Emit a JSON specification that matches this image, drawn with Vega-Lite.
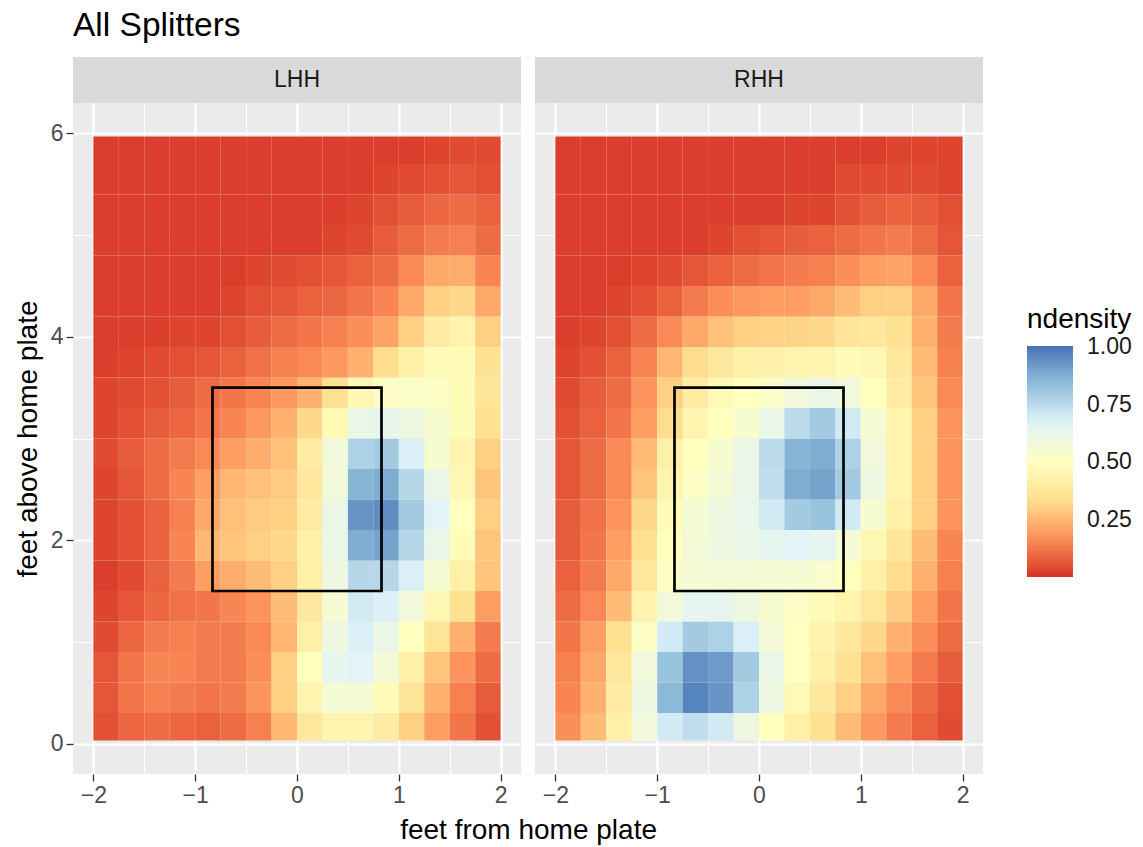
{
  "$schema": "https://vega.github.io/schema/vega-lite/v6.json",
  "padding": {"left": 14, "top": 8, "right": 8, "bottom": 4},
  "background": "white",
  "title": {"text": "All Splitters", "anchor": "start", "fontSize": 33.5, "fontWeight": "normal", "color": "black", "offset": 14, "frame": "group"},
  "config": {
    "font": "Liberation Sans",
    "axis": {"domain": false, "gridColor": "white", "gridOpacity": 1, "tickColor": "#333333", "tickSize": 7, "tickWidth": 1.3, "labelFontSize": 23, "labelColor": "#4d4d4d", "labelPadding": 3, "titleFontSize": 28, "titleFontWeight": "normal", "titleColor": "black", "labelFlush": false, "labelOverlap": false}
  },
  "datasets": {
    "lhh": [
{"x":-2,"x2":-1.75,"y":0.03,"y2":0.3,"d":0.05},{"x":-1.75,"x2":-1.5,"y":0.03,"y2":0.3,"d":0.09},{"x":-1.5,"x2":-1.25,"y":0.03,"y2":0.3,"d":0.1},{"x":-1.25,"x2":-1,"y":0.03,"y2":0.3,"d":0.09},{"x":-1,"x2":-0.75,"y":0.03,"y2":0.3,"d":0.08},{"x":-0.75,"x2":-0.5,"y":0.03,"y2":0.3,"d":0.1},{"x":-0.5,"x2":-0.25,"y":0.03,"y2":0.3,"d":0.14},{"x":-0.25,"x2":0,"y":0.03,"y2":0.3,"d":0.25},{"x":0,"x2":0.25,"y":0.03,"y2":0.3,"d":0.38},{"x":0.25,"x2":0.5,"y":0.03,"y2":0.3,"d":0.45},{"x":0.5,"x2":0.75,"y":0.03,"y2":0.3,"d":0.45},{"x":0.75,"x2":1,"y":0.03,"y2":0.3,"d":0.4},{"x":1,"x2":1.25,"y":0.03,"y2":0.3,"d":0.3},{"x":1.25,"x2":1.5,"y":0.03,"y2":0.3,"d":0.2},{"x":1.5,"x2":1.75,"y":0.03,"y2":0.3,"d":0.12},{"x":1.75,"x2":2,"y":0.03,"y2":0.3,"d":0.05},
{"x":-2,"x2":-1.75,"y":0.3,"y2":0.6,"d":0.06},{"x":-1.75,"x2":-1.5,"y":0.3,"y2":0.6,"d":0.12},{"x":-1.5,"x2":-1.25,"y":0.3,"y2":0.6,"d":0.14},{"x":-1.25,"x2":-1,"y":0.3,"y2":0.6,"d":0.13},{"x":-1,"x2":-0.75,"y":0.3,"y2":0.6,"d":0.12},{"x":-0.75,"x2":-0.5,"y":0.3,"y2":0.6,"d":0.13},{"x":-0.5,"x2":-0.25,"y":0.3,"y2":0.6,"d":0.18},{"x":-0.25,"x2":0,"y":0.3,"y2":0.6,"d":0.3},{"x":0,"x2":0.25,"y":0.3,"y2":0.6,"d":0.45},{"x":0.25,"x2":0.5,"y":0.3,"y2":0.6,"d":0.56},{"x":0.5,"x2":0.75,"y":0.3,"y2":0.6,"d":0.56},{"x":0.75,"x2":1,"y":0.3,"y2":0.6,"d":0.48},{"x":1,"x2":1.25,"y":0.3,"y2":0.6,"d":0.36},{"x":1.25,"x2":1.5,"y":0.3,"y2":0.6,"d":0.24},{"x":1.5,"x2":1.75,"y":0.3,"y2":0.6,"d":0.14},{"x":1.75,"x2":2,"y":0.3,"y2":0.6,"d":0.07},
{"x":-2,"x2":-1.75,"y":0.6,"y2":0.9,"d":0.06},{"x":-1.75,"x2":-1.5,"y":0.6,"y2":0.9,"d":0.12},{"x":-1.5,"x2":-1.25,"y":0.6,"y2":0.9,"d":0.15},{"x":-1.25,"x2":-1,"y":0.6,"y2":0.9,"d":0.15},{"x":-1,"x2":-0.75,"y":0.6,"y2":0.9,"d":0.13},{"x":-0.75,"x2":-0.5,"y":0.6,"y2":0.9,"d":0.13},{"x":-0.5,"x2":-0.25,"y":0.6,"y2":0.9,"d":0.17},{"x":-0.25,"x2":0,"y":0.6,"y2":0.9,"d":0.3},{"x":0,"x2":0.25,"y":0.6,"y2":0.9,"d":0.5},{"x":0.25,"x2":0.5,"y":0.6,"y2":0.9,"d":0.64},{"x":0.5,"x2":0.75,"y":0.6,"y2":0.9,"d":0.66},{"x":0.75,"x2":1,"y":0.6,"y2":0.9,"d":0.57},{"x":1,"x2":1.25,"y":0.6,"y2":0.9,"d":0.42},{"x":1.25,"x2":1.5,"y":0.6,"y2":0.9,"d":0.28},{"x":1.5,"x2":1.75,"y":0.6,"y2":0.9,"d":0.18},{"x":1.75,"x2":2,"y":0.6,"y2":0.9,"d":0.1},
{"x":-2,"x2":-1.75,"y":0.9,"y2":1.2,"d":0.04},{"x":-1.75,"x2":-1.5,"y":0.9,"y2":1.2,"d":0.09},{"x":-1.5,"x2":-1.25,"y":0.9,"y2":1.2,"d":0.13},{"x":-1.25,"x2":-1,"y":0.9,"y2":1.2,"d":0.14},{"x":-1,"x2":-0.75,"y":0.9,"y2":1.2,"d":0.13},{"x":-0.75,"x2":-0.5,"y":0.9,"y2":1.2,"d":0.13},{"x":-0.5,"x2":-0.25,"y":0.9,"y2":1.2,"d":0.16},{"x":-0.25,"x2":0,"y":0.9,"y2":1.2,"d":0.25},{"x":0,"x2":0.25,"y":0.9,"y2":1.2,"d":0.42},{"x":0.25,"x2":0.5,"y":0.9,"y2":1.2,"d":0.6},{"x":0.5,"x2":0.75,"y":0.9,"y2":1.2,"d":0.68},{"x":0.75,"x2":1,"y":0.9,"y2":1.2,"d":0.62},{"x":1,"x2":1.25,"y":0.9,"y2":1.2,"d":0.5},{"x":1.25,"x2":1.5,"y":0.9,"y2":1.2,"d":0.36},{"x":1.5,"x2":1.75,"y":0.9,"y2":1.2,"d":0.24},{"x":1.75,"x2":2,"y":0.9,"y2":1.2,"d":0.13},
{"x":-2,"x2":-1.75,"y":1.2,"y2":1.5,"d":0.03},{"x":-1.75,"x2":-1.5,"y":1.2,"y2":1.5,"d":0.06},{"x":-1.5,"x2":-1.25,"y":1.2,"y2":1.5,"d":0.09},{"x":-1.25,"x2":-1,"y":1.2,"y2":1.5,"d":0.11},{"x":-1,"x2":-0.75,"y":1.2,"y2":1.5,"d":0.12},{"x":-0.75,"x2":-0.5,"y":1.2,"y2":1.5,"d":0.15},{"x":-0.5,"x2":-0.25,"y":1.2,"y2":1.5,"d":0.18},{"x":-0.25,"x2":0,"y":1.2,"y2":1.5,"d":0.26},{"x":0,"x2":0.25,"y":1.2,"y2":1.5,"d":0.38},{"x":0.25,"x2":0.5,"y":1.2,"y2":1.5,"d":0.56},{"x":0.5,"x2":0.75,"y":1.2,"y2":1.5,"d":0.7},{"x":0.75,"x2":1,"y":1.2,"y2":1.5,"d":0.68},{"x":1,"x2":1.25,"y":1.2,"y2":1.5,"d":0.58},{"x":1.25,"x2":1.5,"y":1.2,"y2":1.5,"d":0.46},{"x":1.5,"x2":1.75,"y":1.2,"y2":1.5,"d":0.34},{"x":1.75,"x2":2,"y":1.2,"y2":1.5,"d":0.2},
{"x":-2,"x2":-1.75,"y":1.5,"y2":1.8,"d":0.02},{"x":-1.75,"x2":-1.5,"y":1.5,"y2":1.8,"d":0.04},{"x":-1.5,"x2":-1.25,"y":1.5,"y2":1.8,"d":0.08},{"x":-1.25,"x2":-1,"y":1.5,"y2":1.8,"d":0.13},{"x":-1,"x2":-0.75,"y":1.5,"y2":1.8,"d":0.2},{"x":-0.75,"x2":-0.5,"y":1.5,"y2":1.8,"d":0.23},{"x":-0.5,"x2":-0.25,"y":1.5,"y2":1.8,"d":0.26},{"x":-0.25,"x2":0,"y":1.5,"y2":1.8,"d":0.3},{"x":0,"x2":0.25,"y":1.5,"y2":1.8,"d":0.42},{"x":0.25,"x2":0.5,"y":1.5,"y2":1.8,"d":0.6},{"x":0.5,"x2":0.75,"y":1.5,"y2":1.8,"d":0.76},{"x":0.75,"x2":1,"y":1.5,"y2":1.8,"d":0.76},{"x":1,"x2":1.25,"y":1.5,"y2":1.8,"d":0.68},{"x":1.25,"x2":1.5,"y":1.5,"y2":1.8,"d":0.56},{"x":1.5,"x2":1.75,"y":1.5,"y2":1.8,"d":0.42},{"x":1.75,"x2":2,"y":1.5,"y2":1.8,"d":0.28},
{"x":-2,"x2":-1.75,"y":1.8,"y2":2.1,"d":0.03},{"x":-1.75,"x2":-1.5,"y":1.8,"y2":2.1,"d":0.05},{"x":-1.5,"x2":-1.25,"y":1.8,"y2":2.1,"d":0.08},{"x":-1.25,"x2":-1,"y":1.8,"y2":2.1,"d":0.15},{"x":-1,"x2":-0.75,"y":1.8,"y2":2.1,"d":0.25},{"x":-0.75,"x2":-0.5,"y":1.8,"y2":2.1,"d":0.28},{"x":-0.5,"x2":-0.25,"y":1.8,"y2":2.1,"d":0.3},{"x":-0.25,"x2":0,"y":1.8,"y2":2.1,"d":0.32},{"x":0,"x2":0.25,"y":1.8,"y2":2.1,"d":0.42},{"x":0.25,"x2":0.5,"y":1.8,"y2":2.1,"d":0.62},{"x":0.5,"x2":0.75,"y":1.8,"y2":2.1,"d":0.88},{"x":0.75,"x2":1,"y":1.8,"y2":2.1,"d":0.9},{"x":1,"x2":1.25,"y":1.8,"y2":2.1,"d":0.76},{"x":1.25,"x2":1.5,"y":1.8,"y2":2.1,"d":0.62},{"x":1.5,"x2":1.75,"y":1.8,"y2":2.1,"d":0.48},{"x":1.75,"x2":2,"y":1.8,"y2":2.1,"d":0.28},
{"x":-2,"x2":-1.75,"y":2.1,"y2":2.4,"d":0.03},{"x":-1.75,"x2":-1.5,"y":2.1,"y2":2.4,"d":0.05},{"x":-1.5,"x2":-1.25,"y":2.1,"y2":2.4,"d":0.08},{"x":-1.25,"x2":-1,"y":2.1,"y2":2.4,"d":0.14},{"x":-1,"x2":-0.75,"y":2.1,"y2":2.4,"d":0.22},{"x":-0.75,"x2":-0.5,"y":2.1,"y2":2.4,"d":0.27},{"x":-0.5,"x2":-0.25,"y":2.1,"y2":2.4,"d":0.29},{"x":-0.25,"x2":0,"y":2.1,"y2":2.4,"d":0.3},{"x":0,"x2":0.25,"y":2.1,"y2":2.4,"d":0.4},{"x":0.25,"x2":0.5,"y":2.1,"y2":2.4,"d":0.62},{"x":0.5,"x2":0.75,"y":2.1,"y2":2.4,"d":0.93},{"x":0.75,"x2":1,"y":2.1,"y2":2.4,"d":0.95},{"x":1,"x2":1.25,"y":2.1,"y2":2.4,"d":0.8},{"x":1.25,"x2":1.5,"y":2.1,"y2":2.4,"d":0.66},{"x":1.5,"x2":1.75,"y":2.1,"y2":2.4,"d":0.5},{"x":1.75,"x2":2,"y":2.1,"y2":2.4,"d":0.3},
{"x":-2,"x2":-1.75,"y":2.4,"y2":2.7,"d":0.03},{"x":-1.75,"x2":-1.5,"y":2.4,"y2":2.7,"d":0.06},{"x":-1.5,"x2":-1.25,"y":2.4,"y2":2.7,"d":0.1},{"x":-1.25,"x2":-1,"y":2.4,"y2":2.7,"d":0.15},{"x":-1,"x2":-0.75,"y":2.4,"y2":2.7,"d":0.2},{"x":-0.75,"x2":-0.5,"y":2.4,"y2":2.7,"d":0.25},{"x":-0.5,"x2":-0.25,"y":2.4,"y2":2.7,"d":0.27},{"x":-0.25,"x2":0,"y":2.4,"y2":2.7,"d":0.29},{"x":0,"x2":0.25,"y":2.4,"y2":2.7,"d":0.38},{"x":0.25,"x2":0.5,"y":2.4,"y2":2.7,"d":0.58},{"x":0.5,"x2":0.75,"y":2.4,"y2":2.7,"d":0.86},{"x":0.75,"x2":1,"y":2.4,"y2":2.7,"d":0.88},{"x":1,"x2":1.25,"y":2.4,"y2":2.7,"d":0.76},{"x":1.25,"x2":1.5,"y":2.4,"y2":2.7,"d":0.62},{"x":1.5,"x2":1.75,"y":2.4,"y2":2.7,"d":0.46},{"x":1.75,"x2":2,"y":2.4,"y2":2.7,"d":0.28},
{"x":-2,"x2":-1.75,"y":2.7,"y2":3,"d":0.04},{"x":-1.75,"x2":-1.5,"y":2.7,"y2":3,"d":0.07},{"x":-1.5,"x2":-1.25,"y":2.7,"y2":3,"d":0.1},{"x":-1.25,"x2":-1,"y":2.7,"y2":3,"d":0.13},{"x":-1,"x2":-0.75,"y":2.7,"y2":3,"d":0.16},{"x":-0.75,"x2":-0.5,"y":2.7,"y2":3,"d":0.2},{"x":-0.5,"x2":-0.25,"y":2.7,"y2":3,"d":0.23},{"x":-0.25,"x2":0,"y":2.7,"y2":3,"d":0.27},{"x":0,"x2":0.25,"y":2.7,"y2":3,"d":0.4},{"x":0.25,"x2":0.5,"y":2.7,"y2":3,"d":0.58},{"x":0.5,"x2":0.75,"y":2.7,"y2":3,"d":0.78},{"x":0.75,"x2":1,"y":2.7,"y2":3,"d":0.8},{"x":1,"x2":1.25,"y":2.7,"y2":3,"d":0.68},{"x":1.25,"x2":1.5,"y":2.7,"y2":3,"d":0.55},{"x":1.5,"x2":1.75,"y":2.7,"y2":3,"d":0.45},{"x":1.75,"x2":2,"y":2.7,"y2":3,"d":0.3},
{"x":-2,"x2":-1.75,"y":3,"y2":3.3,"d":0.03},{"x":-1.75,"x2":-1.5,"y":3,"y2":3.3,"d":0.05},{"x":-1.5,"x2":-1.25,"y":3,"y2":3.3,"d":0.07},{"x":-1.25,"x2":-1,"y":3,"y2":3.3,"d":0.09},{"x":-1,"x2":-0.75,"y":3,"y2":3.3,"d":0.12},{"x":-0.75,"x2":-0.5,"y":3,"y2":3.3,"d":0.15},{"x":-0.5,"x2":-0.25,"y":3,"y2":3.3,"d":0.19},{"x":-0.25,"x2":0,"y":3,"y2":3.3,"d":0.24},{"x":0,"x2":0.25,"y":3,"y2":3.3,"d":0.32},{"x":0.25,"x2":0.5,"y":3,"y2":3.3,"d":0.47},{"x":0.5,"x2":0.75,"y":3,"y2":3.3,"d":0.62},{"x":0.75,"x2":1,"y":3,"y2":3.3,"d":0.64},{"x":1,"x2":1.25,"y":3,"y2":3.3,"d":0.6},{"x":1.25,"x2":1.5,"y":3,"y2":3.3,"d":0.55},{"x":1.5,"x2":1.75,"y":3,"y2":3.3,"d":0.48},{"x":1.75,"x2":2,"y":3,"y2":3.3,"d":0.34},
{"x":-2,"x2":-1.75,"y":3.3,"y2":3.6,"d":0.03},{"x":-1.75,"x2":-1.5,"y":3.3,"y2":3.6,"d":0.04},{"x":-1.5,"x2":-1.25,"y":3.3,"y2":3.6,"d":0.05},{"x":-1.25,"x2":-1,"y":3.3,"y2":3.6,"d":0.07},{"x":-1,"x2":-0.75,"y":3.3,"y2":3.6,"d":0.1},{"x":-0.75,"x2":-0.5,"y":3.3,"y2":3.6,"d":0.12},{"x":-0.5,"x2":-0.25,"y":3.3,"y2":3.6,"d":0.15},{"x":-0.25,"x2":0,"y":3.3,"y2":3.6,"d":0.19},{"x":0,"x2":0.25,"y":3.3,"y2":3.6,"d":0.24},{"x":0.25,"x2":0.5,"y":3.3,"y2":3.6,"d":0.34},{"x":0.5,"x2":0.75,"y":3.3,"y2":3.6,"d":0.46},{"x":0.75,"x2":1,"y":3.3,"y2":3.6,"d":0.52},{"x":1,"x2":1.25,"y":3.3,"y2":3.6,"d":0.53},{"x":1.25,"x2":1.5,"y":3.3,"y2":3.6,"d":0.52},{"x":1.5,"x2":1.75,"y":3.3,"y2":3.6,"d":0.48},{"x":1.75,"x2":2,"y":3.3,"y2":3.6,"d":0.36},
{"x":-2,"x2":-1.75,"y":3.6,"y2":3.9,"d":0.02},{"x":-1.75,"x2":-1.5,"y":3.6,"y2":3.9,"d":0.03},{"x":-1.5,"x2":-1.25,"y":3.6,"y2":3.9,"d":0.04},{"x":-1.25,"x2":-1,"y":3.6,"y2":3.9,"d":0.05},{"x":-1,"x2":-0.75,"y":3.6,"y2":3.9,"d":0.06},{"x":-0.75,"x2":-0.5,"y":3.6,"y2":3.9,"d":0.08},{"x":-0.5,"x2":-0.25,"y":3.6,"y2":3.9,"d":0.11},{"x":-0.25,"x2":0,"y":3.6,"y2":3.9,"d":0.14},{"x":0,"x2":0.25,"y":3.6,"y2":3.9,"d":0.16},{"x":0.25,"x2":0.5,"y":3.6,"y2":3.9,"d":0.19},{"x":0.5,"x2":0.75,"y":3.6,"y2":3.9,"d":0.24},{"x":0.75,"x2":1,"y":3.6,"y2":3.9,"d":0.33},{"x":1,"x2":1.25,"y":3.6,"y2":3.9,"d":0.42},{"x":1.25,"x2":1.5,"y":3.6,"y2":3.9,"d":0.48},{"x":1.5,"x2":1.75,"y":3.6,"y2":3.9,"d":0.48},{"x":1.75,"x2":2,"y":3.6,"y2":3.9,"d":0.35},
{"x":-2,"x2":-1.75,"y":3.9,"y2":4.2,"d":0.02},{"x":-1.75,"x2":-1.5,"y":3.9,"y2":4.2,"d":0.02},{"x":-1.5,"x2":-1.25,"y":3.9,"y2":4.2,"d":0.02},{"x":-1.25,"x2":-1,"y":3.9,"y2":4.2,"d":0.03},{"x":-1,"x2":-0.75,"y":3.9,"y2":4.2,"d":0.03},{"x":-0.75,"x2":-0.5,"y":3.9,"y2":4.2,"d":0.05},{"x":-0.5,"x2":-0.25,"y":3.9,"y2":4.2,"d":0.07},{"x":-0.25,"x2":0,"y":3.9,"y2":4.2,"d":0.1},{"x":0,"x2":0.25,"y":3.9,"y2":4.2,"d":0.12},{"x":0.25,"x2":0.5,"y":3.9,"y2":4.2,"d":0.14},{"x":0.5,"x2":0.75,"y":3.9,"y2":4.2,"d":0.17},{"x":0.75,"x2":1,"y":3.9,"y2":4.2,"d":0.21},{"x":1,"x2":1.25,"y":3.9,"y2":4.2,"d":0.3},{"x":1.25,"x2":1.5,"y":3.9,"y2":4.2,"d":0.4},{"x":1.5,"x2":1.75,"y":3.9,"y2":4.2,"d":0.44},{"x":1.75,"x2":2,"y":3.9,"y2":4.2,"d":0.3},
{"x":-2,"x2":-1.75,"y":4.2,"y2":4.5,"d":0.02},{"x":-1.75,"x2":-1.5,"y":4.2,"y2":4.5,"d":0.02},{"x":-1.5,"x2":-1.25,"y":4.2,"y2":4.5,"d":0.02},{"x":-1.25,"x2":-1,"y":4.2,"y2":4.5,"d":0.02},{"x":-1,"x2":-0.75,"y":4.2,"y2":4.5,"d":0.02},{"x":-0.75,"x2":-0.5,"y":4.2,"y2":4.5,"d":0.03},{"x":-0.5,"x2":-0.25,"y":4.2,"y2":4.5,"d":0.05},{"x":-0.25,"x2":0,"y":4.2,"y2":4.5,"d":0.06},{"x":0,"x2":0.25,"y":4.2,"y2":4.5,"d":0.08},{"x":0.25,"x2":0.5,"y":4.2,"y2":4.5,"d":0.09},{"x":0.5,"x2":0.75,"y":4.2,"y2":4.5,"d":0.12},{"x":0.75,"x2":1,"y":4.2,"y2":4.5,"d":0.15},{"x":1,"x2":1.25,"y":4.2,"y2":4.5,"d":0.22},{"x":1.25,"x2":1.5,"y":4.2,"y2":4.5,"d":0.3},{"x":1.5,"x2":1.75,"y":4.2,"y2":4.5,"d":0.32},{"x":1.75,"x2":2,"y":4.2,"y2":4.5,"d":0.22},
{"x":-2,"x2":-1.75,"y":4.5,"y2":4.8,"d":0.02},{"x":-1.75,"x2":-1.5,"y":4.5,"y2":4.8,"d":0.02},{"x":-1.5,"x2":-1.25,"y":4.5,"y2":4.8,"d":0.02},{"x":-1.25,"x2":-1,"y":4.5,"y2":4.8,"d":0.02},{"x":-1,"x2":-0.75,"y":4.5,"y2":4.8,"d":0.02},{"x":-0.75,"x2":-0.5,"y":4.5,"y2":4.8,"d":0.02},{"x":-0.5,"x2":-0.25,"y":4.5,"y2":4.8,"d":0.03},{"x":-0.25,"x2":0,"y":4.5,"y2":4.8,"d":0.04},{"x":0,"x2":0.25,"y":4.5,"y2":4.8,"d":0.05},{"x":0.25,"x2":0.5,"y":4.5,"y2":4.8,"d":0.06},{"x":0.5,"x2":0.75,"y":4.5,"y2":4.8,"d":0.08},{"x":0.75,"x2":1,"y":4.5,"y2":4.8,"d":0.1},{"x":1,"x2":1.25,"y":4.5,"y2":4.8,"d":0.16},{"x":1.25,"x2":1.5,"y":4.5,"y2":4.8,"d":0.22},{"x":1.5,"x2":1.75,"y":4.5,"y2":4.8,"d":0.23},{"x":1.75,"x2":2,"y":4.5,"y2":4.8,"d":0.15},
{"x":-2,"x2":-1.75,"y":4.8,"y2":5.1,"d":0.02},{"x":-1.75,"x2":-1.5,"y":4.8,"y2":5.1,"d":0.02},{"x":-1.5,"x2":-1.25,"y":4.8,"y2":5.1,"d":0.02},{"x":-1.25,"x2":-1,"y":4.8,"y2":5.1,"d":0.02},{"x":-1,"x2":-0.75,"y":4.8,"y2":5.1,"d":0.02},{"x":-0.75,"x2":-0.5,"y":4.8,"y2":5.1,"d":0.02},{"x":-0.5,"x2":-0.25,"y":4.8,"y2":5.1,"d":0.02},{"x":-0.25,"x2":0,"y":4.8,"y2":5.1,"d":0.02},{"x":0,"x2":0.25,"y":4.8,"y2":5.1,"d":0.02},{"x":0.25,"x2":0.5,"y":4.8,"y2":5.1,"d":0.03},{"x":0.5,"x2":0.75,"y":4.8,"y2":5.1,"d":0.04},{"x":0.75,"x2":1,"y":4.8,"y2":5.1,"d":0.07},{"x":1,"x2":1.25,"y":4.8,"y2":5.1,"d":0.1},{"x":1.25,"x2":1.5,"y":4.8,"y2":5.1,"d":0.13},{"x":1.5,"x2":1.75,"y":4.8,"y2":5.1,"d":0.14},{"x":1.75,"x2":2,"y":4.8,"y2":5.1,"d":0.1},
{"x":-2,"x2":-1.75,"y":5.1,"y2":5.4,"d":0.02},{"x":-1.75,"x2":-1.5,"y":5.1,"y2":5.4,"d":0.02},{"x":-1.5,"x2":-1.25,"y":5.1,"y2":5.4,"d":0.02},{"x":-1.25,"x2":-1,"y":5.1,"y2":5.4,"d":0.02},{"x":-1,"x2":-0.75,"y":5.1,"y2":5.4,"d":0.02},{"x":-0.75,"x2":-0.5,"y":5.1,"y2":5.4,"d":0.02},{"x":-0.5,"x2":-0.25,"y":5.1,"y2":5.4,"d":0.02},{"x":-0.25,"x2":0,"y":5.1,"y2":5.4,"d":0.02},{"x":0,"x2":0.25,"y":5.1,"y2":5.4,"d":0.02},{"x":0.25,"x2":0.5,"y":5.1,"y2":5.4,"d":0.02},{"x":0.5,"x2":0.75,"y":5.1,"y2":5.4,"d":0.03},{"x":0.75,"x2":1,"y":5.1,"y2":5.4,"d":0.05},{"x":1,"x2":1.25,"y":5.1,"y2":5.4,"d":0.07},{"x":1.25,"x2":1.5,"y":5.1,"y2":5.4,"d":0.09},{"x":1.5,"x2":1.75,"y":5.1,"y2":5.4,"d":0.1},{"x":1.75,"x2":2,"y":5.1,"y2":5.4,"d":0.08},
{"x":-2,"x2":-1.75,"y":5.4,"y2":5.7,"d":0.02},{"x":-1.75,"x2":-1.5,"y":5.4,"y2":5.7,"d":0.02},{"x":-1.5,"x2":-1.25,"y":5.4,"y2":5.7,"d":0.02},{"x":-1.25,"x2":-1,"y":5.4,"y2":5.7,"d":0.02},{"x":-1,"x2":-0.75,"y":5.4,"y2":5.7,"d":0.02},{"x":-0.75,"x2":-0.5,"y":5.4,"y2":5.7,"d":0.02},{"x":-0.5,"x2":-0.25,"y":5.4,"y2":5.7,"d":0.02},{"x":-0.25,"x2":0,"y":5.4,"y2":5.7,"d":0.02},{"x":0,"x2":0.25,"y":5.4,"y2":5.7,"d":0.02},{"x":0.25,"x2":0.5,"y":5.4,"y2":5.7,"d":0.02},{"x":0.5,"x2":0.75,"y":5.4,"y2":5.7,"d":0.02},{"x":0.75,"x2":1,"y":5.4,"y2":5.7,"d":0.03},{"x":1,"x2":1.25,"y":5.4,"y2":5.7,"d":0.04},{"x":1.25,"x2":1.5,"y":5.4,"y2":5.7,"d":0.05},{"x":1.5,"x2":1.75,"y":5.4,"y2":5.7,"d":0.06},{"x":1.75,"x2":2,"y":5.4,"y2":5.7,"d":0.05},
{"x":-2,"x2":-1.75,"y":5.7,"y2":5.97,"d":0.02},{"x":-1.75,"x2":-1.5,"y":5.7,"y2":5.97,"d":0.02},{"x":-1.5,"x2":-1.25,"y":5.7,"y2":5.97,"d":0.02},{"x":-1.25,"x2":-1,"y":5.7,"y2":5.97,"d":0.02},{"x":-1,"x2":-0.75,"y":5.7,"y2":5.97,"d":0.02},{"x":-0.75,"x2":-0.5,"y":5.7,"y2":5.97,"d":0.02},{"x":-0.5,"x2":-0.25,"y":5.7,"y2":5.97,"d":0.02},{"x":-0.25,"x2":0,"y":5.7,"y2":5.97,"d":0.02},{"x":0,"x2":0.25,"y":5.7,"y2":5.97,"d":0.02},{"x":0.25,"x2":0.5,"y":5.7,"y2":5.97,"d":0.02},{"x":0.5,"x2":0.75,"y":5.7,"y2":5.97,"d":0.02},{"x":0.75,"x2":1,"y":5.7,"y2":5.97,"d":0.02},{"x":1,"x2":1.25,"y":5.7,"y2":5.97,"d":0.02},{"x":1.25,"x2":1.5,"y":5.7,"y2":5.97,"d":0.03},{"x":1.5,"x2":1.75,"y":5.7,"y2":5.97,"d":0.04},{"x":1.75,"x2":2,"y":5.7,"y2":5.97,"d":0.04}
    ],
    "rhh": [
{"x":-2,"x2":-1.75,"y":0.03,"y2":0.3,"d":0.17},{"x":-1.75,"x2":-1.5,"y":0.03,"y2":0.3,"d":0.26},{"x":-1.5,"x2":-1.25,"y":0.03,"y2":0.3,"d":0.42},{"x":-1.25,"x2":-1,"y":0.03,"y2":0.3,"d":0.58},{"x":-1,"x2":-0.75,"y":0.03,"y2":0.3,"d":0.7},{"x":-0.75,"x2":-0.5,"y":0.03,"y2":0.3,"d":0.74},{"x":-0.5,"x2":-0.25,"y":0.03,"y2":0.3,"d":0.7},{"x":-0.25,"x2":0,"y":0.03,"y2":0.3,"d":0.6},{"x":0,"x2":0.25,"y":0.03,"y2":0.3,"d":0.5},{"x":0.25,"x2":0.5,"y":0.03,"y2":0.3,"d":0.42},{"x":0.5,"x2":0.75,"y":0.03,"y2":0.3,"d":0.34},{"x":0.75,"x2":1,"y":0.03,"y2":0.3,"d":0.26},{"x":1,"x2":1.25,"y":0.03,"y2":0.3,"d":0.19},{"x":1.25,"x2":1.5,"y":0.03,"y2":0.3,"d":0.13},{"x":1.5,"x2":1.75,"y":0.03,"y2":0.3,"d":0.08},{"x":1.75,"x2":2,"y":0.03,"y2":0.3,"d":0.04},
{"x":-2,"x2":-1.75,"y":0.3,"y2":0.6,"d":0.15},{"x":-1.75,"x2":-1.5,"y":0.3,"y2":0.6,"d":0.24},{"x":-1.5,"x2":-1.25,"y":0.3,"y2":0.6,"d":0.4},{"x":-1.25,"x2":-1,"y":0.3,"y2":0.6,"d":0.6},{"x":-1,"x2":-0.75,"y":0.3,"y2":0.6,"d":0.85},{"x":-0.75,"x2":-0.5,"y":0.3,"y2":0.6,"d":0.97},{"x":-0.5,"x2":-0.25,"y":0.3,"y2":0.6,"d":0.93},{"x":-0.25,"x2":0,"y":0.3,"y2":0.6,"d":0.78},{"x":0,"x2":0.25,"y":0.3,"y2":0.6,"d":0.6},{"x":0.25,"x2":0.5,"y":0.3,"y2":0.6,"d":0.47},{"x":0.5,"x2":0.75,"y":0.3,"y2":0.6,"d":0.38},{"x":0.75,"x2":1,"y":0.3,"y2":0.6,"d":0.3},{"x":1,"x2":1.25,"y":0.3,"y2":0.6,"d":0.22},{"x":1.25,"x2":1.5,"y":0.3,"y2":0.6,"d":0.16},{"x":1.5,"x2":1.75,"y":0.3,"y2":0.6,"d":0.1},{"x":1.75,"x2":2,"y":0.3,"y2":0.6,"d":0.05},
{"x":-2,"x2":-1.75,"y":0.6,"y2":0.9,"d":0.14},{"x":-1.75,"x2":-1.5,"y":0.6,"y2":0.9,"d":0.22},{"x":-1.5,"x2":-1.25,"y":0.6,"y2":0.9,"d":0.38},{"x":-1.25,"x2":-1,"y":0.6,"y2":0.9,"d":0.58},{"x":-1,"x2":-0.75,"y":0.6,"y2":0.9,"d":0.82},{"x":-0.75,"x2":-0.5,"y":0.6,"y2":0.9,"d":0.94},{"x":-0.5,"x2":-0.25,"y":0.6,"y2":0.9,"d":0.92},{"x":-0.25,"x2":0,"y":0.6,"y2":0.9,"d":0.8},{"x":0,"x2":0.25,"y":0.6,"y2":0.9,"d":0.62},{"x":0.25,"x2":0.5,"y":0.6,"y2":0.9,"d":0.5},{"x":0.5,"x2":0.75,"y":0.6,"y2":0.9,"d":0.42},{"x":0.75,"x2":1,"y":0.6,"y2":0.9,"d":0.34},{"x":1,"x2":1.25,"y":0.6,"y2":0.9,"d":0.27},{"x":1.25,"x2":1.5,"y":0.6,"y2":0.9,"d":0.2},{"x":1.5,"x2":1.75,"y":0.6,"y2":0.9,"d":0.13},{"x":1.75,"x2":2,"y":0.6,"y2":0.9,"d":0.07},
{"x":-2,"x2":-1.75,"y":0.9,"y2":1.2,"d":0.12},{"x":-1.75,"x2":-1.5,"y":0.9,"y2":1.2,"d":0.2},{"x":-1.5,"x2":-1.25,"y":0.9,"y2":1.2,"d":0.34},{"x":-1.25,"x2":-1,"y":0.9,"y2":1.2,"d":0.52},{"x":-1,"x2":-0.75,"y":0.9,"y2":1.2,"d":0.7},{"x":-0.75,"x2":-0.5,"y":0.9,"y2":1.2,"d":0.8},{"x":-0.5,"x2":-0.25,"y":0.9,"y2":1.2,"d":0.78},{"x":-0.25,"x2":0,"y":0.9,"y2":1.2,"d":0.68},{"x":0,"x2":0.25,"y":0.9,"y2":1.2,"d":0.57},{"x":0.25,"x2":0.5,"y":0.9,"y2":1.2,"d":0.5},{"x":0.5,"x2":0.75,"y":0.9,"y2":1.2,"d":0.44},{"x":0.75,"x2":1,"y":0.9,"y2":1.2,"d":0.38},{"x":1,"x2":1.25,"y":0.9,"y2":1.2,"d":0.32},{"x":1.25,"x2":1.5,"y":0.9,"y2":1.2,"d":0.24},{"x":1.5,"x2":1.75,"y":0.9,"y2":1.2,"d":0.17},{"x":1.75,"x2":2,"y":0.9,"y2":1.2,"d":0.1},
{"x":-2,"x2":-1.75,"y":1.2,"y2":1.5,"d":0.1},{"x":-1.75,"x2":-1.5,"y":1.2,"y2":1.5,"d":0.16},{"x":-1.5,"x2":-1.25,"y":1.2,"y2":1.5,"d":0.26},{"x":-1.25,"x2":-1,"y":1.2,"y2":1.5,"d":0.44},{"x":-1,"x2":-0.75,"y":1.2,"y2":1.5,"d":0.58},{"x":-0.75,"x2":-0.5,"y":1.2,"y2":1.5,"d":0.64},{"x":-0.5,"x2":-0.25,"y":1.2,"y2":1.5,"d":0.64},{"x":-0.25,"x2":0,"y":1.2,"y2":1.5,"d":0.6},{"x":0,"x2":0.25,"y":1.2,"y2":1.5,"d":0.55},{"x":0.25,"x2":0.5,"y":1.2,"y2":1.5,"d":0.52},{"x":0.5,"x2":0.75,"y":1.2,"y2":1.5,"d":0.48},{"x":0.75,"x2":1,"y":1.2,"y2":1.5,"d":0.44},{"x":1,"x2":1.25,"y":1.2,"y2":1.5,"d":0.37},{"x":1.25,"x2":1.5,"y":1.2,"y2":1.5,"d":0.29},{"x":1.5,"x2":1.75,"y":1.2,"y2":1.5,"d":0.2},{"x":1.75,"x2":2,"y":1.2,"y2":1.5,"d":0.12},
{"x":-2,"x2":-1.75,"y":1.5,"y2":1.8,"d":0.08},{"x":-1.75,"x2":-1.5,"y":1.5,"y2":1.8,"d":0.13},{"x":-1.5,"x2":-1.25,"y":1.5,"y2":1.8,"d":0.22},{"x":-1.25,"x2":-1,"y":1.5,"y2":1.8,"d":0.38},{"x":-1,"x2":-0.75,"y":1.5,"y2":1.8,"d":0.52},{"x":-0.75,"x2":-0.5,"y":1.5,"y2":1.8,"d":0.56},{"x":-0.5,"x2":-0.25,"y":1.5,"y2":1.8,"d":0.57},{"x":-0.25,"x2":0,"y":1.5,"y2":1.8,"d":0.57},{"x":0,"x2":0.25,"y":1.5,"y2":1.8,"d":0.56},{"x":0.25,"x2":0.5,"y":1.5,"y2":1.8,"d":0.56},{"x":0.5,"x2":0.75,"y":1.5,"y2":1.8,"d":0.54},{"x":0.75,"x2":1,"y":1.5,"y2":1.8,"d":0.5},{"x":1,"x2":1.25,"y":1.5,"y2":1.8,"d":0.42},{"x":1.25,"x2":1.5,"y":1.5,"y2":1.8,"d":0.33},{"x":1.5,"x2":1.75,"y":1.5,"y2":1.8,"d":0.24},{"x":1.75,"x2":2,"y":1.5,"y2":1.8,"d":0.14},
{"x":-2,"x2":-1.75,"y":1.8,"y2":2.1,"d":0.07},{"x":-1.75,"x2":-1.5,"y":1.8,"y2":2.1,"d":0.12},{"x":-1.5,"x2":-1.25,"y":1.8,"y2":2.1,"d":0.2},{"x":-1.25,"x2":-1,"y":1.8,"y2":2.1,"d":0.34},{"x":-1,"x2":-0.75,"y":1.8,"y2":2.1,"d":0.5},{"x":-0.75,"x2":-0.5,"y":1.8,"y2":2.1,"d":0.57},{"x":-0.5,"x2":-0.25,"y":1.8,"y2":2.1,"d":0.6},{"x":-0.25,"x2":0,"y":1.8,"y2":2.1,"d":0.62},{"x":0,"x2":0.25,"y":1.8,"y2":2.1,"d":0.64},{"x":0.25,"x2":0.5,"y":1.8,"y2":2.1,"d":0.66},{"x":0.5,"x2":0.75,"y":1.8,"y2":2.1,"d":0.64},{"x":0.75,"x2":1,"y":1.8,"y2":2.1,"d":0.56},{"x":1,"x2":1.25,"y":1.8,"y2":2.1,"d":0.46},{"x":1.25,"x2":1.5,"y":1.8,"y2":2.1,"d":0.36},{"x":1.5,"x2":1.75,"y":1.8,"y2":2.1,"d":0.26},{"x":1.75,"x2":2,"y":1.8,"y2":2.1,"d":0.15},
{"x":-2,"x2":-1.75,"y":2.1,"y2":2.4,"d":0.07},{"x":-1.75,"x2":-1.5,"y":2.1,"y2":2.4,"d":0.11},{"x":-1.5,"x2":-1.25,"y":2.1,"y2":2.4,"d":0.18},{"x":-1.25,"x2":-1,"y":2.1,"y2":2.4,"d":0.32},{"x":-1,"x2":-0.75,"y":2.1,"y2":2.4,"d":0.48},{"x":-0.75,"x2":-0.5,"y":2.1,"y2":2.4,"d":0.56},{"x":-0.5,"x2":-0.25,"y":2.1,"y2":2.4,"d":0.6},{"x":-0.25,"x2":0,"y":2.1,"y2":2.4,"d":0.63},{"x":0,"x2":0.25,"y":2.1,"y2":2.4,"d":0.7},{"x":0.25,"x2":0.5,"y":2.1,"y2":2.4,"d":0.8},{"x":0.5,"x2":0.75,"y":2.1,"y2":2.4,"d":0.82},{"x":0.75,"x2":1,"y":2.1,"y2":2.4,"d":0.7},{"x":1,"x2":1.25,"y":2.1,"y2":2.4,"d":0.55},{"x":1.25,"x2":1.5,"y":2.1,"y2":2.4,"d":0.42},{"x":1.5,"x2":1.75,"y":2.1,"y2":2.4,"d":0.3},{"x":1.75,"x2":2,"y":2.1,"y2":2.4,"d":0.18},
{"x":-2,"x2":-1.75,"y":2.4,"y2":2.7,"d":0.06},{"x":-1.75,"x2":-1.5,"y":2.4,"y2":2.7,"d":0.1},{"x":-1.5,"x2":-1.25,"y":2.4,"y2":2.7,"d":0.16},{"x":-1.25,"x2":-1,"y":2.4,"y2":2.7,"d":0.28},{"x":-1,"x2":-0.75,"y":2.4,"y2":2.7,"d":0.45},{"x":-0.75,"x2":-0.5,"y":2.4,"y2":2.7,"d":0.52},{"x":-0.5,"x2":-0.25,"y":2.4,"y2":2.7,"d":0.57},{"x":-0.25,"x2":0,"y":2.4,"y2":2.7,"d":0.62},{"x":0,"x2":0.25,"y":2.4,"y2":2.7,"d":0.74},{"x":0.25,"x2":0.5,"y":2.4,"y2":2.7,"d":0.88},{"x":0.5,"x2":0.75,"y":2.4,"y2":2.7,"d":0.9},{"x":0.75,"x2":1,"y":2.4,"y2":2.7,"d":0.8},{"x":1,"x2":1.25,"y":2.4,"y2":2.7,"d":0.6},{"x":1.25,"x2":1.5,"y":2.4,"y2":2.7,"d":0.44},{"x":1.5,"x2":1.75,"y":2.4,"y2":2.7,"d":0.3},{"x":1.75,"x2":2,"y":2.4,"y2":2.7,"d":0.18},
{"x":-2,"x2":-1.75,"y":2.7,"y2":3,"d":0.06},{"x":-1.75,"x2":-1.5,"y":2.7,"y2":3,"d":0.1},{"x":-1.5,"x2":-1.25,"y":2.7,"y2":3,"d":0.16},{"x":-1.25,"x2":-1,"y":2.7,"y2":3,"d":0.26},{"x":-1,"x2":-0.75,"y":2.7,"y2":3,"d":0.42},{"x":-0.75,"x2":-0.5,"y":2.7,"y2":3,"d":0.5},{"x":-0.5,"x2":-0.25,"y":2.7,"y2":3,"d":0.55},{"x":-0.25,"x2":0,"y":2.7,"y2":3,"d":0.62},{"x":0,"x2":0.25,"y":2.7,"y2":3,"d":0.75},{"x":0.25,"x2":0.5,"y":2.7,"y2":3,"d":0.86},{"x":0.5,"x2":0.75,"y":2.7,"y2":3,"d":0.88},{"x":0.75,"x2":1,"y":2.7,"y2":3,"d":0.78},{"x":1,"x2":1.25,"y":2.7,"y2":3,"d":0.58},{"x":1.25,"x2":1.5,"y":2.7,"y2":3,"d":0.44},{"x":1.5,"x2":1.75,"y":2.7,"y2":3,"d":0.3},{"x":1.75,"x2":2,"y":2.7,"y2":3,"d":0.18},
{"x":-2,"x2":-1.75,"y":3,"y2":3.3,"d":0.05},{"x":-1.75,"x2":-1.5,"y":3,"y2":3.3,"d":0.08},{"x":-1.5,"x2":-1.25,"y":3,"y2":3.3,"d":0.12},{"x":-1.25,"x2":-1,"y":3,"y2":3.3,"d":0.2},{"x":-1,"x2":-0.75,"y":3,"y2":3.3,"d":0.33},{"x":-0.75,"x2":-0.5,"y":3,"y2":3.3,"d":0.45},{"x":-0.5,"x2":-0.25,"y":3,"y2":3.3,"d":0.5},{"x":-0.25,"x2":0,"y":3,"y2":3.3,"d":0.55},{"x":0,"x2":0.25,"y":3,"y2":3.3,"d":0.62},{"x":0.25,"x2":0.5,"y":3,"y2":3.3,"d":0.75},{"x":0.5,"x2":0.75,"y":3,"y2":3.3,"d":0.8},{"x":0.75,"x2":1,"y":3,"y2":3.3,"d":0.7},{"x":1,"x2":1.25,"y":3,"y2":3.3,"d":0.56},{"x":1.25,"x2":1.5,"y":3,"y2":3.3,"d":0.44},{"x":1.5,"x2":1.75,"y":3,"y2":3.3,"d":0.3},{"x":1.75,"x2":2,"y":3,"y2":3.3,"d":0.18},
{"x":-2,"x2":-1.75,"y":3.3,"y2":3.6,"d":0.04},{"x":-1.75,"x2":-1.5,"y":3.3,"y2":3.6,"d":0.07},{"x":-1.5,"x2":-1.25,"y":3.3,"y2":3.6,"d":0.1},{"x":-1.25,"x2":-1,"y":3.3,"y2":3.6,"d":0.18},{"x":-1,"x2":-0.75,"y":3.3,"y2":3.6,"d":0.3},{"x":-0.75,"x2":-0.5,"y":3.3,"y2":3.6,"d":0.4},{"x":-0.5,"x2":-0.25,"y":3.3,"y2":3.6,"d":0.47},{"x":-0.25,"x2":0,"y":3.3,"y2":3.6,"d":0.5},{"x":0,"x2":0.25,"y":3.3,"y2":3.6,"d":0.53},{"x":0.25,"x2":0.5,"y":3.3,"y2":3.6,"d":0.58},{"x":0.5,"x2":0.75,"y":3.3,"y2":3.6,"d":0.62},{"x":0.75,"x2":1,"y":3.3,"y2":3.6,"d":0.58},{"x":1,"x2":1.25,"y":3.3,"y2":3.6,"d":0.5},{"x":1.25,"x2":1.5,"y":3.3,"y2":3.6,"d":0.4},{"x":1.5,"x2":1.75,"y":3.3,"y2":3.6,"d":0.28},{"x":1.75,"x2":2,"y":3.3,"y2":3.6,"d":0.16},
{"x":-2,"x2":-1.75,"y":3.6,"y2":3.9,"d":0.03},{"x":-1.75,"x2":-1.5,"y":3.6,"y2":3.9,"d":0.05},{"x":-1.5,"x2":-1.25,"y":3.6,"y2":3.9,"d":0.08},{"x":-1.25,"x2":-1,"y":3.6,"y2":3.9,"d":0.15},{"x":-1,"x2":-0.75,"y":3.6,"y2":3.9,"d":0.25},{"x":-0.75,"x2":-0.5,"y":3.6,"y2":3.9,"d":0.33},{"x":-0.5,"x2":-0.25,"y":3.6,"y2":3.9,"d":0.38},{"x":-0.25,"x2":0,"y":3.6,"y2":3.9,"d":0.42},{"x":0,"x2":0.25,"y":3.6,"y2":3.9,"d":0.43},{"x":0.25,"x2":0.5,"y":3.6,"y2":3.9,"d":0.44},{"x":0.5,"x2":0.75,"y":3.6,"y2":3.9,"d":0.45},{"x":0.75,"x2":1,"y":3.6,"y2":3.9,"d":0.48},{"x":1,"x2":1.25,"y":3.6,"y2":3.9,"d":0.46},{"x":1.25,"x2":1.5,"y":3.6,"y2":3.9,"d":0.38},{"x":1.5,"x2":1.75,"y":3.6,"y2":3.9,"d":0.26},{"x":1.75,"x2":2,"y":3.6,"y2":3.9,"d":0.14},
{"x":-2,"x2":-1.75,"y":3.9,"y2":4.2,"d":0.02},{"x":-1.75,"x2":-1.5,"y":3.9,"y2":4.2,"d":0.03},{"x":-1.5,"x2":-1.25,"y":3.9,"y2":4.2,"d":0.05},{"x":-1.25,"x2":-1,"y":3.9,"y2":4.2,"d":0.1},{"x":-1,"x2":-0.75,"y":3.9,"y2":4.2,"d":0.16},{"x":-0.75,"x2":-0.5,"y":3.9,"y2":4.2,"d":0.22},{"x":-0.5,"x2":-0.25,"y":3.9,"y2":4.2,"d":0.27},{"x":-0.25,"x2":0,"y":3.9,"y2":4.2,"d":0.3},{"x":0,"x2":0.25,"y":3.9,"y2":4.2,"d":0.31},{"x":0.25,"x2":0.5,"y":3.9,"y2":4.2,"d":0.31},{"x":0.5,"x2":0.75,"y":3.9,"y2":4.2,"d":0.32},{"x":0.75,"x2":1,"y":3.9,"y2":4.2,"d":0.36},{"x":1,"x2":1.25,"y":3.9,"y2":4.2,"d":0.38},{"x":1.25,"x2":1.5,"y":3.9,"y2":4.2,"d":0.34},{"x":1.5,"x2":1.75,"y":3.9,"y2":4.2,"d":0.24},{"x":1.75,"x2":2,"y":3.9,"y2":4.2,"d":0.13},
{"x":-2,"x2":-1.75,"y":4.2,"y2":4.5,"d":0.02},{"x":-1.75,"x2":-1.5,"y":4.2,"y2":4.5,"d":0.02},{"x":-1.5,"x2":-1.25,"y":4.2,"y2":4.5,"d":0.03},{"x":-1.25,"x2":-1,"y":4.2,"y2":4.5,"d":0.05},{"x":-1,"x2":-0.75,"y":4.2,"y2":4.5,"d":0.08},{"x":-0.75,"x2":-0.5,"y":4.2,"y2":4.5,"d":0.13},{"x":-0.5,"x2":-0.25,"y":4.2,"y2":4.5,"d":0.17},{"x":-0.25,"x2":0,"y":4.2,"y2":4.5,"d":0.19},{"x":0,"x2":0.25,"y":4.2,"y2":4.5,"d":0.2},{"x":0.25,"x2":0.5,"y":4.2,"y2":4.5,"d":0.2},{"x":0.5,"x2":0.75,"y":4.2,"y2":4.5,"d":0.22},{"x":0.75,"x2":1,"y":4.2,"y2":4.5,"d":0.26},{"x":1,"x2":1.25,"y":4.2,"y2":4.5,"d":0.3},{"x":1.25,"x2":1.5,"y":4.2,"y2":4.5,"d":0.3},{"x":1.5,"x2":1.75,"y":4.2,"y2":4.5,"d":0.22},{"x":1.75,"x2":2,"y":4.2,"y2":4.5,"d":0.12},
{"x":-2,"x2":-1.75,"y":4.5,"y2":4.8,"d":0.02},{"x":-1.75,"x2":-1.5,"y":4.5,"y2":4.8,"d":0.02},{"x":-1.5,"x2":-1.25,"y":4.5,"y2":4.8,"d":0.02},{"x":-1.25,"x2":-1,"y":4.5,"y2":4.8,"d":0.03},{"x":-1,"x2":-0.75,"y":4.5,"y2":4.8,"d":0.04},{"x":-0.75,"x2":-0.5,"y":4.5,"y2":4.8,"d":0.06},{"x":-0.5,"x2":-0.25,"y":4.5,"y2":4.8,"d":0.08},{"x":-0.25,"x2":0,"y":4.5,"y2":4.8,"d":0.1},{"x":0,"x2":0.25,"y":4.5,"y2":4.8,"d":0.12},{"x":0.25,"x2":0.5,"y":4.5,"y2":4.8,"d":0.13},{"x":0.5,"x2":0.75,"y":4.5,"y2":4.8,"d":0.14},{"x":0.75,"x2":1,"y":4.5,"y2":4.8,"d":0.17},{"x":1,"x2":1.25,"y":4.5,"y2":4.8,"d":0.2},{"x":1.25,"x2":1.5,"y":4.5,"y2":4.8,"d":0.21},{"x":1.5,"x2":1.75,"y":4.5,"y2":4.8,"d":0.16},{"x":1.75,"x2":2,"y":4.5,"y2":4.8,"d":0.08},
{"x":-2,"x2":-1.75,"y":4.8,"y2":5.1,"d":0.02},{"x":-1.75,"x2":-1.5,"y":4.8,"y2":5.1,"d":0.02},{"x":-1.5,"x2":-1.25,"y":4.8,"y2":5.1,"d":0.02},{"x":-1.25,"x2":-1,"y":4.8,"y2":5.1,"d":0.02},{"x":-1,"x2":-0.75,"y":4.8,"y2":5.1,"d":0.02},{"x":-0.75,"x2":-0.5,"y":4.8,"y2":5.1,"d":0.02},{"x":-0.5,"x2":-0.25,"y":4.8,"y2":5.1,"d":0.03},{"x":-0.25,"x2":0,"y":4.8,"y2":5.1,"d":0.05},{"x":0,"x2":0.25,"y":4.8,"y2":5.1,"d":0.06},{"x":0.25,"x2":0.5,"y":4.8,"y2":5.1,"d":0.07},{"x":0.5,"x2":0.75,"y":4.8,"y2":5.1,"d":0.08},{"x":0.75,"x2":1,"y":4.8,"y2":5.1,"d":0.1},{"x":1,"x2":1.25,"y":4.8,"y2":5.1,"d":0.12},{"x":1.25,"x2":1.5,"y":4.8,"y2":5.1,"d":0.13},{"x":1.5,"x2":1.75,"y":4.8,"y2":5.1,"d":0.1},{"x":1.75,"x2":2,"y":4.8,"y2":5.1,"d":0.06},
{"x":-2,"x2":-1.75,"y":5.1,"y2":5.4,"d":0.02},{"x":-1.75,"x2":-1.5,"y":5.1,"y2":5.4,"d":0.02},{"x":-1.5,"x2":-1.25,"y":5.1,"y2":5.4,"d":0.02},{"x":-1.25,"x2":-1,"y":5.1,"y2":5.4,"d":0.02},{"x":-1,"x2":-0.75,"y":5.1,"y2":5.4,"d":0.02},{"x":-0.75,"x2":-0.5,"y":5.1,"y2":5.4,"d":0.02},{"x":-0.5,"x2":-0.25,"y":5.1,"y2":5.4,"d":0.02},{"x":-0.25,"x2":0,"y":5.1,"y2":5.4,"d":0.02},{"x":0,"x2":0.25,"y":5.1,"y2":5.4,"d":0.02},{"x":0.25,"x2":0.5,"y":5.1,"y2":5.4,"d":0.03},{"x":0.5,"x2":0.75,"y":5.1,"y2":5.4,"d":0.03},{"x":0.75,"x2":1,"y":5.1,"y2":5.4,"d":0.05},{"x":1,"x2":1.25,"y":5.1,"y2":5.4,"d":0.07},{"x":1.25,"x2":1.5,"y":5.1,"y2":5.4,"d":0.08},{"x":1.5,"x2":1.75,"y":5.1,"y2":5.4,"d":0.07},{"x":1.75,"x2":2,"y":5.1,"y2":5.4,"d":0.05},
{"x":-2,"x2":-1.75,"y":5.4,"y2":5.7,"d":0.02},{"x":-1.75,"x2":-1.5,"y":5.4,"y2":5.7,"d":0.02},{"x":-1.5,"x2":-1.25,"y":5.4,"y2":5.7,"d":0.02},{"x":-1.25,"x2":-1,"y":5.4,"y2":5.7,"d":0.02},{"x":-1,"x2":-0.75,"y":5.4,"y2":5.7,"d":0.02},{"x":-0.75,"x2":-0.5,"y":5.4,"y2":5.7,"d":0.02},{"x":-0.5,"x2":-0.25,"y":5.4,"y2":5.7,"d":0.02},{"x":-0.25,"x2":0,"y":5.4,"y2":5.7,"d":0.02},{"x":0,"x2":0.25,"y":5.4,"y2":5.7,"d":0.02},{"x":0.25,"x2":0.5,"y":5.4,"y2":5.7,"d":0.02},{"x":0.5,"x2":0.75,"y":5.4,"y2":5.7,"d":0.02},{"x":0.75,"x2":1,"y":5.4,"y2":5.7,"d":0.04},{"x":1,"x2":1.25,"y":5.4,"y2":5.7,"d":0.04},{"x":1.25,"x2":1.5,"y":5.4,"y2":5.7,"d":0.04},{"x":1.5,"x2":1.75,"y":5.4,"y2":5.7,"d":0.04},{"x":1.75,"x2":2,"y":5.4,"y2":5.7,"d":0.03},
{"x":-2,"x2":-1.75,"y":5.7,"y2":5.97,"d":0.02},{"x":-1.75,"x2":-1.5,"y":5.7,"y2":5.97,"d":0.02},{"x":-1.5,"x2":-1.25,"y":5.7,"y2":5.97,"d":0.02},{"x":-1.25,"x2":-1,"y":5.7,"y2":5.97,"d":0.02},{"x":-1,"x2":-0.75,"y":5.7,"y2":5.97,"d":0.02},{"x":-0.75,"x2":-0.5,"y":5.7,"y2":5.97,"d":0.02},{"x":-0.5,"x2":-0.25,"y":5.7,"y2":5.97,"d":0.02},{"x":-0.25,"x2":0,"y":5.7,"y2":5.97,"d":0.02},{"x":0,"x2":0.25,"y":5.7,"y2":5.97,"d":0.02},{"x":0.25,"x2":0.5,"y":5.7,"y2":5.97,"d":0.02},{"x":0.5,"x2":0.75,"y":5.7,"y2":5.97,"d":0.02},{"x":0.75,"x2":1,"y":5.7,"y2":5.97,"d":0.02},{"x":1,"x2":1.25,"y":5.7,"y2":5.97,"d":0.02},{"x":1.25,"x2":1.5,"y":5.7,"y2":5.97,"d":0.03},{"x":1.5,"x2":1.75,"y":5.7,"y2":5.97,"d":0.03},{"x":1.75,"x2":2,"y":5.7,"y2":5.97,"d":0.03}
    ],
    "zone": [{"x": -0.83, "x2": 0.83, "y": 1.5, "y2": 3.5}]
  },
  "vconcat": [
    {
      "title": {"text": "feet from home plate", "orient": "bottom", "anchor": "middle", "frame": "bounds", "fontSize": 28, "fontWeight": "normal", "color": "black", "offset": 10, "dx": 30},
      "spacing": 14,
      "hconcat": [
        {
          "spacing": 0,
          "bounds": "flush",
          "vconcat": [
            {
              "width": 448, "height": 46,
              "view": {"fill": "#d9d9d9", "stroke": null},
              "data": {"values": [{"label": "LHH"}]},
              "mark": {"type": "text", "fontSize": 23, "color": "#1a1a1a", "font": "Liberation Sans"},
              "encoding": {"text": {"field": "label"}}
            },
            {
              "width": 448, "height": 671,
              "view": {"fill": "#ebebeb", "stroke": null},
              "layer": [
                {
                  "data": {"name": "lhh"},
                  "mark": {"type": "rect"},
                  "encoding": {
                    "x": {"field": "x", "type": "quantitative", "scale": {"domain": [-2.2, 2.2], "nice": false, "zero": false},
                      "axis": {"values": [-2, -1.5, -1, -0.5, 0, 0.5, 1, 1.5, 2], "labelExpr": "datum.value % 1 === 0 ? format(datum.value, 'd') : ''",
                        "tickOpacity": {"condition": {"test": "datum.value % 1 !== 0", "value": 0}, "value": 1},
                        "gridWidth": {"condition": {"test": "datum.value % 1 !== 0", "value": 1.1}, "value": 2.2},
                        "title": null}},
                    "x2": {"field": "x2"},
                    "y": {"field": "y", "type": "quantitative", "scale": {"domain": [-0.3, 6.3], "nice": false, "zero": false},
                      "axis": {"values": [0, 1, 2, 3, 4, 5, 6], "labelExpr": "datum.value % 2 === 0 ? format(datum.value, 'd') : ''",
                        "tickOpacity": {"condition": {"test": "datum.value % 2 !== 0", "value": 0}, "value": 1},
                        "gridWidth": {"condition": {"test": "datum.value % 2 !== 0", "value": 1.1}, "value": 2.2},
                        "title": "feet above home plate", "titlePadding": 8}},
                    "y2": {"field": "y2"},
                    "color": {"field": "d", "type": "quantitative",
                      "scale": {"domain": [0, 0.1675, 0.335, 0.5025, 0.67, 0.8375, 1.005], "range": ["#d73027", "#fc8d59", "#fee090", "#ffffbf", "#e0f3f8", "#91bfdb", "#4575b4"], "interpolate": "lab"},
                      "legend": {"type": "gradient", "orient": "none", "legendX": 954, "legendY": 249, "title": "ndensity", "titleFontSize": 28, "titleFontWeight": "normal", "titleColor": "black", "titlePadding": 12, "gradientLength": 231, "gradientThickness": 46, "labelFontSize": 23, "labelColor": "#1a1a1a", "labelOffset": 14, "values": [0.25, 0.5, 0.75, 1], "format": ".2f", "gradientStrokeWidth": 0, "direction": "vertical"}}
                  }
                },
                {
                  "data": {"name": "zone"},
                  "mark": {"type": "rect", "filled": false, "color": "black", "strokeWidth": 2.7},
                  "encoding": {
                    "x": {"field": "x", "type": "quantitative"},
                    "x2": {"field": "x2"},
                    "y": {"field": "y", "type": "quantitative"},
                    "y2": {"field": "y2"}
                  }
                }
              ]
            }
          ]
        },
        {
          "spacing": 0,
          "bounds": "flush",
          "vconcat": [
            {
              "width": 448, "height": 46,
              "view": {"fill": "#d9d9d9", "stroke": null},
              "data": {"values": [{"label": "RHH"}]},
              "mark": {"type": "text", "fontSize": 23, "color": "#1a1a1a", "font": "Liberation Sans"},
              "encoding": {"text": {"field": "label"}}
            },
            {
              "width": 448, "height": 671,
              "view": {"fill": "#ebebeb", "stroke": null},
              "layer": [
                {
                  "data": {"name": "rhh"},
                  "mark": {"type": "rect"},
                  "encoding": {
                    "x": {"field": "x", "type": "quantitative", "scale": {"domain": [-2.2, 2.2], "nice": false, "zero": false},
                      "axis": {"values": [-2, -1.5, -1, -0.5, 0, 0.5, 1, 1.5, 2], "labelExpr": "datum.value % 1 === 0 ? format(datum.value, 'd') : ''",
                        "tickOpacity": {"condition": {"test": "datum.value % 1 !== 0", "value": 0}, "value": 1},
                        "gridWidth": {"condition": {"test": "datum.value % 1 !== 0", "value": 1.1}, "value": 2.2},
                        "title": null}},
                    "x2": {"field": "x2"},
                    "y": {"field": "y", "type": "quantitative", "scale": {"domain": [-0.3, 6.3], "nice": false, "zero": false},
                      "axis": {"values": [0, 1, 2, 3, 4, 5, 6], "labels": false, "ticks": false, "title": null,
                        "gridWidth": {"condition": {"test": "datum.value % 2 !== 0", "value": 1.1}, "value": 2.2}}},
                    "y2": {"field": "y2"},
                    "color": {"field": "d", "type": "quantitative",
                      "scale": {"domain": [0, 0.1675, 0.335, 0.5025, 0.67, 0.8375, 1.005], "range": ["#d73027", "#fc8d59", "#fee090", "#ffffbf", "#e0f3f8", "#91bfdb", "#4575b4"], "interpolate": "lab"}}
                  }
                },
                {
                  "data": {"name": "zone"},
                  "mark": {"type": "rect", "filled": false, "color": "black", "strokeWidth": 2.7},
                  "encoding": {
                    "x": {"field": "x", "type": "quantitative"},
                    "x2": {"field": "x2"},
                    "y": {"field": "y", "type": "quantitative"},
                    "y2": {"field": "y2"}
                  }
                }
              ]
            }
          ]
        }
      ]
    }
  ]
}
